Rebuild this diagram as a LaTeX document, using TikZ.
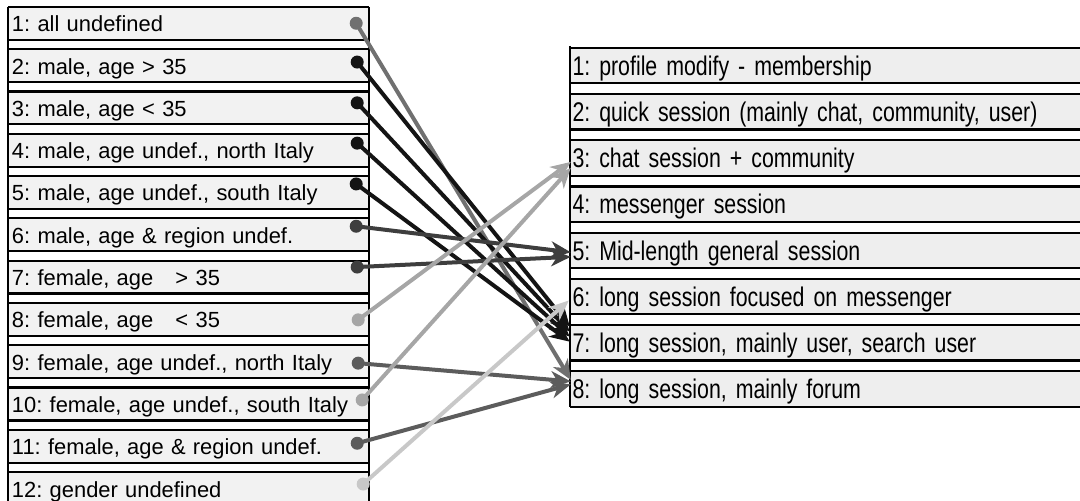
\documentclass[tikz,border=0pt]{standalone}
\usepackage{fontspec}
\setmainfont{Liberation Sans}
\newfontfamily\narrowsans[FakeStretch=0.79]{Liberation Sans}
\usetikzlibrary{arrows.meta,calc}

\definecolor{fillL}{RGB}{242,242,242}
\definecolor{fillR}{RGB}{238,238,238}
\definecolor{cMid}{RGB}{112,112,112}
\definecolor{cBlack}{RGB}{20,20,20}
\definecolor{cDark}{RGB}{62,62,62}
\definecolor{cDarkMid}{RGB}{92,92,92}
\definecolor{cLight}{RGB}{166,166,166}
\definecolor{cPale}{RGB}{200,200,200}

\begin{document}
\frenchspacing
\begin{tikzpicture}[x=1pt,y=-1pt,
  leftbox/.style={rectangle, fill=fillL, inner xsep=4pt, inner ysep=0pt,
    text width=353pt, align=left, minimum height=32.5pt,
    text height=17pt, text depth=0pt, font=\fontsize{21.9}{26}\selectfont},
  rightbox/.style={rectangle, fill=fillR, inner xsep=2.5pt, inner ysep=0pt,
    text width=505pt, align=left, minimum height=35pt,
    text height=19.5pt, text depth=0pt, font=\narrowsans\fontsize{27}{30}\selectfont},
  rule/.style={line width=2.2pt, black},
  link/.style={line width=4pt, -{Stealth[length=20pt,width=17pt,inset=6pt]}},
]
\useasboundingbox (0,0) rectangle (1080,501);

% user groups
\foreach \t [count=\i] in {
  {1: all undefined},
  {2: male, age > 35},
  {3: male, age < 35},
  {4: male, age undef., north Italy},
  {5: male, age undef., south Italy},
  {6: male, age \& region undef.},
  {7: female, age \hspace{15pt}> 35},
  {8: female, age \hspace{15pt}< 35},
  {9: female, age undef., north Italy},
  {10: female, age undef., south Italy},
  {11: female, age \& region undef.},
  {12: gender undefined}} {
  \pgfmathsetmacro\cy{23.25+42.3*(\i-1)}
  \node[leftbox] (L\i) at (188.5,\cy) {\t};
  \draw[rule] (L\i.north west) -- (L\i.north east);
  \draw[rule] (L\i.south west) -- (L\i.south east);
}
\coordinate (Lbot) at (8,506);
\draw[rule] (L1.north west) -- (L1.north west |- Lbot);
\draw[rule] (L1.north east) -- (L1.north east |- Lbot);

% session types
\foreach \t [count=\i] in {
  {1: profile modify - membership},
  {2: quick session (mainly chat, community, user)},
  {3: chat session + community},
  {4: messenger session},
  {5: Mid-length general session},
  {6: long session focused on messenger},
  {7: long session, mainly user, search user},
  {8: long session, mainly forum}} {
  \pgfmathsetmacro\cy{65.5+46.2*(\i-1)}
  \node[rightbox] (R\i) at (825,\cy) {\t};
  \draw[rule] (R\i.north west) -- (R\i.north east);
  \draw[rule] (R\i.south west) -- (R\i.south east);
}
\draw[rule] ($(R1.north west)+(0,-2)$) -- (R8.south west);

% start points of the links
\coordinate (s1)  at ($(L1.east)+(-13,0)$);
\coordinate (s2)  at ($(L2.east)+(-12,-3.5)$);
\coordinate (s3)  at ($(L3.east)+(-12,-5)$);
\coordinate (s4)  at ($(L4.east)+(-12,-7)$);
\coordinate (s5)  at ($(L5.east)+(-13,-8.5)$);
\coordinate (s6)  at ($(L6.east)+(-13,-8.5)$);
\coordinate (s7)  at ($(L7.east)+(-12,-10)$);
\coordinate (s8)  at ($(L8.east)+(-11,0.5)$);
\coordinate (s9)  at ($(L9.east)+(-11,1.5)$);
\coordinate (s10) at ($(L10.east)+(-7,-4)$);
\coordinate (s11) at ($(L11.east)+(-12,-3)$);
\coordinate (s12) at ($(L12.east)+(-6,-4.5)$);

% end points of the links
\coordinate (t1)  at ($(R8.west)+(1,-9)$);
\coordinate (t2)  at ($(R7.west)+(0,-16)$);
\coordinate (t3)  at ($(R7.west)+(0,-11)$);
\coordinate (t4)  at ($(R7.west)+(0,-6)$);
\coordinate (t5)  at ($(R7.west)+(0,-1)$);
\coordinate (t6)  at ($(R5.west)+(1,2)$);
\coordinate (t7)  at ($(R5.west)+(1,6.5)$);
\coordinate (t8)  at ($(R3.west)+(1,4)$);
\coordinate (t9)  at ($(R8.west)+(1,-7.5)$);
\coordinate (t10) at ($(R3.west)+(1,10)$);
\coordinate (t11) at ($(R8.west)+(1,-4.5)$);
\coordinate (t12) at ($(R6.west)+(-1,4)$);

% links: dot at the group, arrow at the session type
\foreach \i/\c in {1/cMid,2/cBlack,3/cBlack,4/cBlack,5/cBlack,6/cDark,7/cDark,
                   8/cLight,9/cDarkMid,10/cLight,11/cDarkMid,12/cPale} {
  \fill[\c] (s\i) circle[radius=6.5pt];
  \draw[link, \c] (s\i) -- (t\i);
}
\end{tikzpicture}
\end{document}
